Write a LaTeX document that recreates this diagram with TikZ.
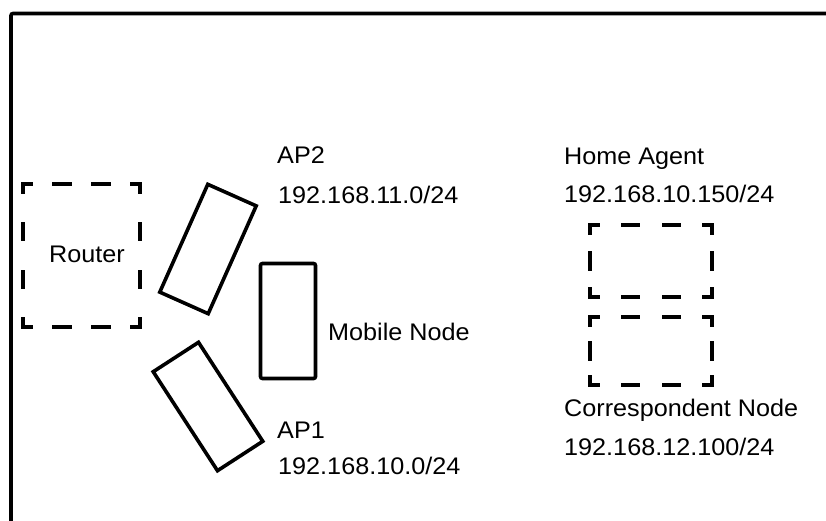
\documentclass[tikz,border=0pt]{standalone}
\usepackage{fontspec}
\setmainfont[FakeStretch=1.05]{Liberation Sans}

% one side of a dashed box: whole dashes of 16pt (plus rect caps),
% a half dash at each corner, and a gap chosen to fit the side
\newcommand\dashside[3]{%
  \draw[boxline, line cap=rect, dash pattern=on 16pt off #3pt, dash phase=8pt] (#1) -- (#2);}

\begin{document}
\begin{tikzpicture}[x=1pt, y=-1pt,
  boxline/.style={line width=3.3pt, black},
  frameline/.style={line width=3.6pt, black, rounded corners=2pt},
  solidbox/.style={draw, line width=3.6pt, inner sep=0pt, outer sep=0pt, line join=miter},
  holder/.style={rectangle, draw=none, inner sep=0pt, outer sep=0pt},
  lbl/.style={anchor=base west, inner sep=0pt, font=\fontsize{24}{28}\selectfont}]

\useasboundingbox (0,0) rectangle (826,520);

% outer frame, running past the right and bottom edges
\begin{scope}
  \clip (0,0) rectangle (826,520);
  \draw[frameline] (11,13.5) rectangle (900,600);
\end{scope}

% router (dashed)
\node[holder, minimum width=117pt, minimum height=143pt] (router) at (81.5,255.5) {};
\dashside{router.north west}{router.north east}{23}
\dashside{router.south west}{router.south east}{23}
\dashside{router.north west}{router.south west}{31.67}
\dashside{router.north east}{router.south east}{31.67}
\node[lbl] (routerlbl) at (49,262) {Router};

% access points and mobile node
\node[solidbox, minimum width=53pt, minimum height=118pt, rotate=-24] (ap2) at (208,249) {};
\node[solidbox, minimum width=54pt, minimum height=118pt, rotate=33] (ap1) at (208,406.5) {};
\node[solidbox, rounded corners=2pt, minimum width=55pt, minimum height=115pt] (mn) at (288,321) {};

\node[lbl] (ap2name) at (277,163) {AP2};
\node[lbl] (ap2net) at (278,203) {192.168.11.0/24};
\node[lbl] (mnname) at (328,340) {Mobile Node};
\node[lbl] (ap1name) at (277,438) {AP1};
\node[lbl] (ap1net) at (278,474) {192.168.10.0/24};

% home agent (dashed)
\node[holder, minimum width=122pt, minimum height=72pt] (ha) at (651,261) {};
\dashside{ha.north west}{ha.north east}{24.67}
\dashside{ha.south west}{ha.south east}{24.67}
\dashside{ha.north west}{ha.south west}{20}
\dashside{ha.north east}{ha.south east}{20}
\node[lbl] (haname) at (564,164) {Home Agent};
\node[lbl] (hanet) at (564,202) {192.168.10.150/24};

% correspondent node (dashed)
\node[holder, minimum width=122pt, minimum height=68pt] (cn) at (651,351) {};
\dashside{cn.north west}{cn.north east}{24.67}
\dashside{cn.south west}{cn.south east}{24.67}
\dashside{cn.north west}{cn.south west}{18}
\dashside{cn.north east}{cn.south east}{18}
\node[lbl] (cnname) at (564,416) {Correspondent Node};
\node[lbl] (cnnet) at (564,455) {192.168.12.100/24};

\end{tikzpicture}
\end{document}
